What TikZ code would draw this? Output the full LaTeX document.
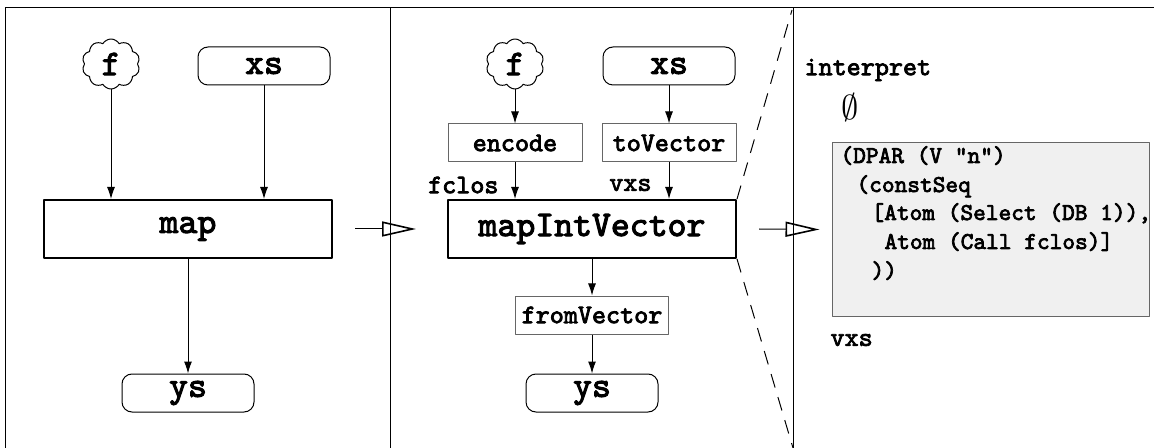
\documentclass[tikz,border=0pt]{standalone}
\usepackage{fontspec}
\setmonofont{lmmono10-regular.otf}[BoldFont=lmmono10-regular.otf,BoldFeatures={FakeBold=3}]
\usetikzlibrary{shapes.symbols,arrows.meta}
\definecolor{codebg}{gray}{0.94}
\definecolor{thinedge}{gray}{0.4}
\tikzset{
  bigtxt/.style={font=\ttfamily\bfseries\fontsize{18}{20}\selectfont},
  midtxt/.style={font=\ttfamily\bfseries\fontsize{13.4}{15}\selectfont},
  codetxt/.style={font=\ttfamily\bfseries\fontsize{12.1}{14}\selectfont},
  fun/.style={bigtxt,draw,cloud,cloud puffs=10,cloud puff arc=120,aspect=1.1,
    minimum width=29pt,minimum height=25pt,inner sep=0pt},
  val/.style={bigtxt,draw,rounded corners=5pt,minimum width=66pt,minimum height=19pt,inner sep=0pt},
  op/.style={bigtxt,draw,line width=1pt,minimum width=144pt,minimum height=29pt,inner sep=0pt},
  conv/.style={midtxt,draw=thinedge,minimum height=19pt,inner sep=0pt},
  lbl/.style={midtxt,inner sep=0pt},
  flow/.style={-{Latex[length=6pt,width=4pt]}},
  step arrow/.style={-{Triangle[open,length=17pt,width=7.5pt,line width=0.8pt]}},
}
\begin{document}
\begin{tikzpicture}[x=0.5pt,y=-0.5pt,line width=0.5pt,line join=round]
\useasboundingbox (0,0) rectangle (1154,448);
% panels
\draw (5,448) -- (5,8) -- (1154,8);
\draw (390,8) -- (390,448);
\draw (793,8) -- (793,448);

% plain map
\node[fun] (fL) at (111,64) {f};
\node[val] (xsL) at (264,66) {xs};
\node[op] (mapL) at (188,229) {map};
\node[val] (ysL) at (188,393) {ys};
\draw[flow] (fL.south) -- (fL.south |- mapL.north);
\draw[flow] (xsL.south) -- (xsL.south |- mapL.north);
\draw[flow] (mapL.south) -- (ysL.north);

% vectorised map
\node[fun] (fM) at (515,64) {f};
\node[val] (xsM) at (669,66) {xs};
\node[conv,minimum width=67pt] (encode) at (515,143) {encode};
\node[conv,minimum width=67pt] (toVector) at (669,143) {toVector};
\node[op] (mapM) at (592,229) {mapIntVector};
\node[conv,minimum width=76.5pt] (fromVector) at (592,315) {fromVector};
\node[val] (ysM) at (592,393) {ys};
\node[lbl,anchor=east] (fclos) at (499,185) {fclos};
\node[lbl,anchor=east] (vxs) at (652,185) {vxs};
\draw[flow] (fM.south) -- (encode.north);
\draw[flow] (xsM.south) -- (toVector.north);
\draw[flow] (encode.south) -- (encode.south |- mapM.north);
\draw[flow] (toVector.south) -- (toVector.south |- mapM.north);
\draw[flow] (mapM.south) -- (fromVector.north);
\draw[flow] (fromVector.south) -- (ysM.north);

% zoom into mapIntVector
\coordinate (zoomtop) at (792,10);
\coordinate (zoombot) at (793,448);
\draw[dash pattern=on 7pt off 5pt] (mapM.north east) -- (zoomtop);
\draw[dash pattern=on 7pt off 5pt] (mapM.south east) -- (zoombot);

% interpreter
\node[lbl,anchor=west] (interp) at (804,70) {interpret};
\node (env) at (850,108) {\fontsize{19}{19}\selectfont$\emptyset$};
\node[draw=thinedge,fill=codebg,minimum width=158.5pt,minimum height=86.5pt,inner sep=0pt]
  (code) at (990.5,229.5) {};
\node[codetxt,anchor=base west,inner sep=0pt] (c1) at (840,163) {(DPAR (V "n")};
\node[codetxt,anchor=base west,inner sep=0pt] (c2) at (856,192) {(constSeq};
\node[codetxt,anchor=base west,inner sep=0pt] (c3) at (871,220) {[Atom (Select (DB 1)),};
\node[codetxt,anchor=base west,inner sep=0pt] (c4) at (884,249) {Atom (Call fclos)]};
\node[codetxt,anchor=base west,inner sep=0pt] (c5) at (871,278) {))};
\node[lbl,anchor=west] (vxsR) at (830,340) {vxs};

% steps
\draw[step arrow] ([xshift=11pt]mapL.east) -- ([xshift=-15.5pt]mapM.west);
\draw[step arrow] ([xshift=11pt]mapM.east) -- ([xshift=-6pt]code.west);
\end{tikzpicture}
\end{document}
